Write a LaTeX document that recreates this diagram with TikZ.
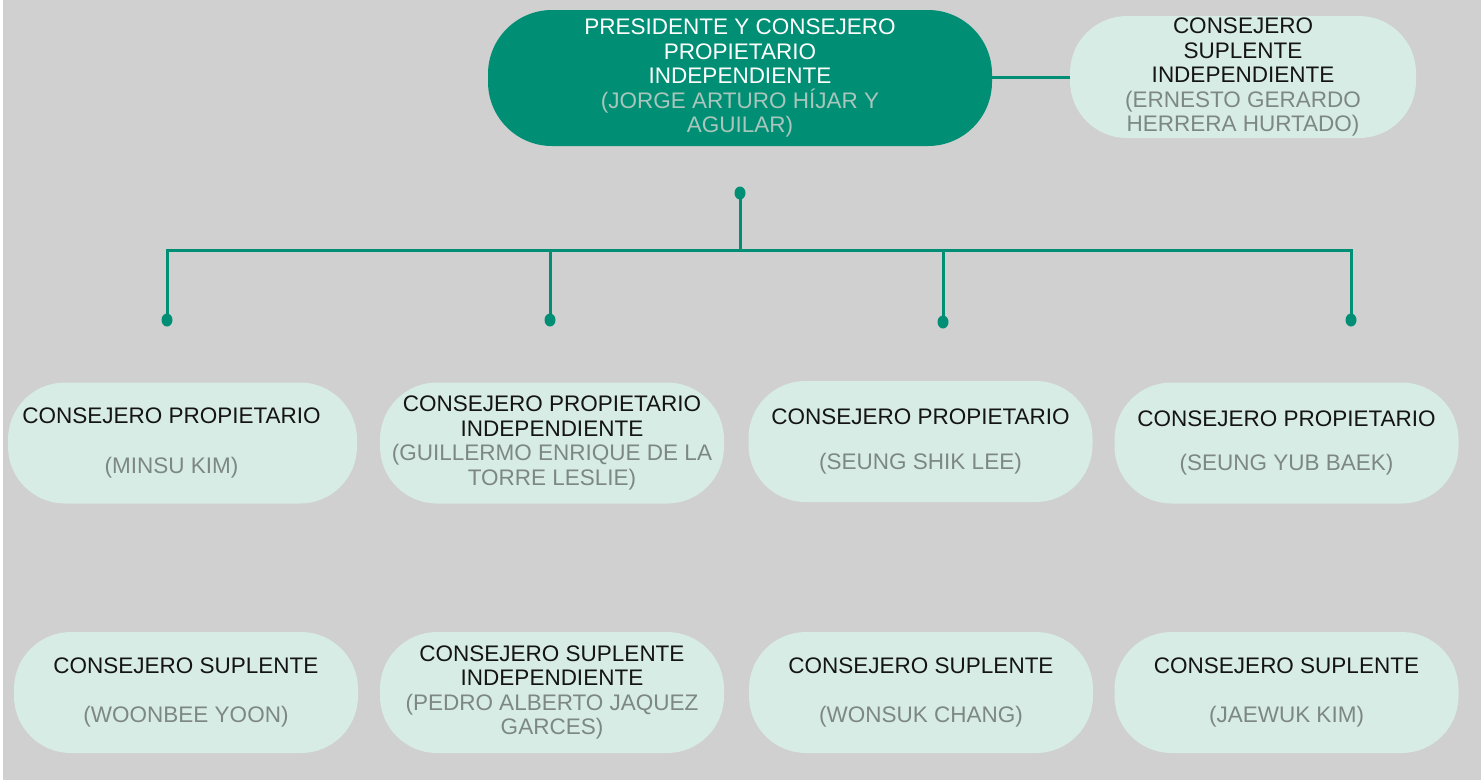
\documentclass[tikz,border=0pt]{standalone}
\usepackage{fontspec}
\setmainfont{Liberation Sans}
\usetikzlibrary{shapes.geometric}
\definecolor{bg}{HTML}{D0D0D0}
\definecolor{teal}{HTML}{008F74}
\definecolor{mint}{HTML}{D7ECE5}
\definecolor{namegray}{HTML}{7D8783}
\definecolor{namelight}{HTML}{A9C6BC}
\definecolor{ink}{HTML}{141414}
\tikzset{
  x=1pt, y=-1pt,
  box/.style={rectangle, rounded corners=57pt, minimum width=344pt, minimum height=121pt,
    fill=mint, text=ink, align=center, inner sep=0pt,
    font=\fontsize{22.5}{24.5}\selectfont},
  topbox/.style={box, fill=teal, text=white, minimum width=504pt, minimum height=136pt, rounded corners=64pt},
  conn/.style={draw=teal, line width=3pt},
  dot/.style={ellipse, fill=teal, inner sep=0pt, minimum width=11pt, minimum height=13pt},
}
\newcommand{\nm}[1]{{\color{namegray}#1}}
\begin{document}
\begin{tikzpicture}
\useasboundingbox (0,0) rectangle (1481,780);
\fill[bg] (0,0) rectangle (1481,780);
\fill[white] (0,0) rectangle (3,780);

% top
\node[topbox] (pres) at (740,78) {PRESIDENTE Y CONSEJERO\\PROPIETARIO\\INDEPENDIENTE\\{\color{namelight}(JORGE ARTURO HÍJAR Y}\\{\color{namelight}AGUILAR)}};
\node[box, minimum width=346pt, minimum height=122pt] (sup) at (1243,77) {CONSEJERO\\SUPLENTE\\INDEPENDIENTE\\\nm{(ERNESTO GERARDO}\\\nm{HERRERA HURTADO)}};
\draw[conn] (pres.east |- sup.west) -- (sup.west);

% connectors
\node[dot] (hub) at (740,193) {};
\coordinate (j0) at (740,250);
\node[dot] (d1) at (167,320) {};
\node[dot] (d2) at (550,320) {};
\node[dot] (d3) at (943,322) {};
\node[dot] (d4) at (1351,320) {};
\draw[conn] (hub.center) -- (j0);
\draw[conn] (d1.center) |- (j0) -| (d4.center);
\draw[conn] (d2.center) -- (d2 |- j0);
\draw[conn] (d3.center) -- (d3 |- j0);

% row 1
\node[box, minimum width=349pt] (p1) at (182.5,443) {CONSEJERO PROPIETARIO\hspace*{22pt}\\[25.5pt]\nm{(MINSU KIM)}\hspace*{22pt}};
\node[box] (p2) at (552,443) {CONSEJERO PROPIETARIO\\INDEPENDIENTE\\\nm{(GUILLERMO ENRIQUE DE LA}\\\nm{TORRE LESLIE)}};
\node[box] (p3) at (920.5,441.5) {CONSEJERO PROPIETARIO\\[20.5pt]\nm{(SEUNG SHIK LEE)}};
\node[box] (p4) at (1286.5,443) {CONSEJERO PROPIETARIO\\[19.5pt]\nm{(SEUNG YUB BAEK)}};

% row 2
\node[box] (s1) at (186,692.5) {CONSEJERO SUPLENTE\\[24.5pt]\nm{(WOONBEE YOON)}};
\node[box] (s2) at (552,692.5) {CONSEJERO SUPLENTE\\INDEPENDIENTE\\\nm{(PEDRO ALBERTO JAQUEZ}\\\nm{GARCES)}};
\node[box] (s3) at (921,692.5) {CONSEJERO SUPLENTE\\[24.5pt]\nm{(WONSUK CHANG)}};
\node[box] (s4) at (1286.5,692.5) {CONSEJERO SUPLENTE\\[24.5pt]\nm{(JAEWUK KIM)}};
\end{tikzpicture}
\end{document}
